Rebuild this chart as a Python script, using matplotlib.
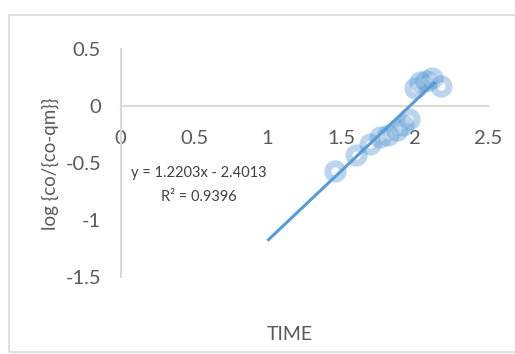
import matplotlib
matplotlib.use("Agg")
import matplotlib.pyplot as plt
import numpy as np

# Measured data: time vs log(co/(co-qm))
time = [1.46, 1.60, 1.70, 1.765, 1.82, 1.88, 1.92, 1.96,
        2.00, 2.04, 2.08, 2.12, 2.18]
log_ratio = [-0.57, -0.43, -0.33, -0.27, -0.25, -0.21, -0.17, -0.11,
             0.16, 0.21, 0.22, 0.25, 0.18]

# Linear trendline coefficients
slope = 1.2203
intercept = -2.4013
r_squared = 0.9396
trend_x = [1.0, 2.14]

x_ticks = [0, 0.5, 1, 1.5, 2, 2.5]
y_ticks = [-1.5, -1, -0.5, 0, 0.5]

font = ["Lato", "DejaVu Sans"]
grey = "#595959"
blue = "#5B9BD5"

fig = plt.figure(figsize=(5.15, 3.54), dpi=100)
fig.patch.set_facecolor("white")

# chart area border
fig.add_artist(plt.Rectangle((9 / 515, 2 / 354), 520 / 515, 337 / 354,
                             transform=fig.transFigure, fill=False,
                             edgecolor="#D9D9D9", linewidth=1.2))

ax = fig.add_axes([0.234, 0.2175, 0.7136, 0.644])
ax.set_xlim(0, 2.5)
ax.set_ylim(-1.5, 0.5)

for side in ["top", "right"]:
    ax.spines[side].set_visible(False)
ax.spines["bottom"].set_position(("data", 0))
ax.spines["left"].set_position(("data", 0))
for side in ["bottom", "left"]:
    ax.spines[side].set_color("#D9D9D9")
    ax.spines[side].set_linewidth(1.5)

ax.set_xticks(x_ticks)
ax.set_yticks(y_ticks)
ax.set_xticklabels([f"{v:g}" for v in x_ticks])
ax.set_yticklabels([f"{v:g}" for v in y_ticks])
ax.tick_params(axis="both", length=0, colors=grey, labelsize=14.5)
ax.tick_params(axis="x", pad=17)
ax.tick_params(axis="y", pad=14)
for lbl in ax.get_xticklabels() + ax.get_yticklabels():
    lbl.set_family(font)

ax.plot(time, log_ratio, linestyle="none", marker="o", markersize=11,
        markerfacecolor="none", markeredgecolor=blue, markeredgewidth=5,
        alpha=0.42, zorder=3)

tx = np.array(trend_x)
ax.plot(tx, slope * tx + intercept, color=blue, linewidth=2.2, zorder=4,
        solid_capstyle="butt")

ax.text(0.53, -0.59, f"y = {slope}x - {abs(intercept)}", ha="center",
        va="center", fontsize=10.5, color="#404040", family=font)
ax.text(0.53, -0.80, f"R² = {r_squared}", ha="center", va="center",
        fontsize=10.5, color="#404040", family=font)

fig.text(290 / 515, 1 - 334 / 354, "TIME", ha="center", va="center",
         fontsize=14, color=grey, family=font)
fig.text(50 / 515, 1 - 164 / 354, "log {co/{co-qm}}", ha="center",
         va="center", rotation=90, fontsize=13.5, color=grey, family=font)

fig.savefig("out.png", dpi=100, facecolor="white")
